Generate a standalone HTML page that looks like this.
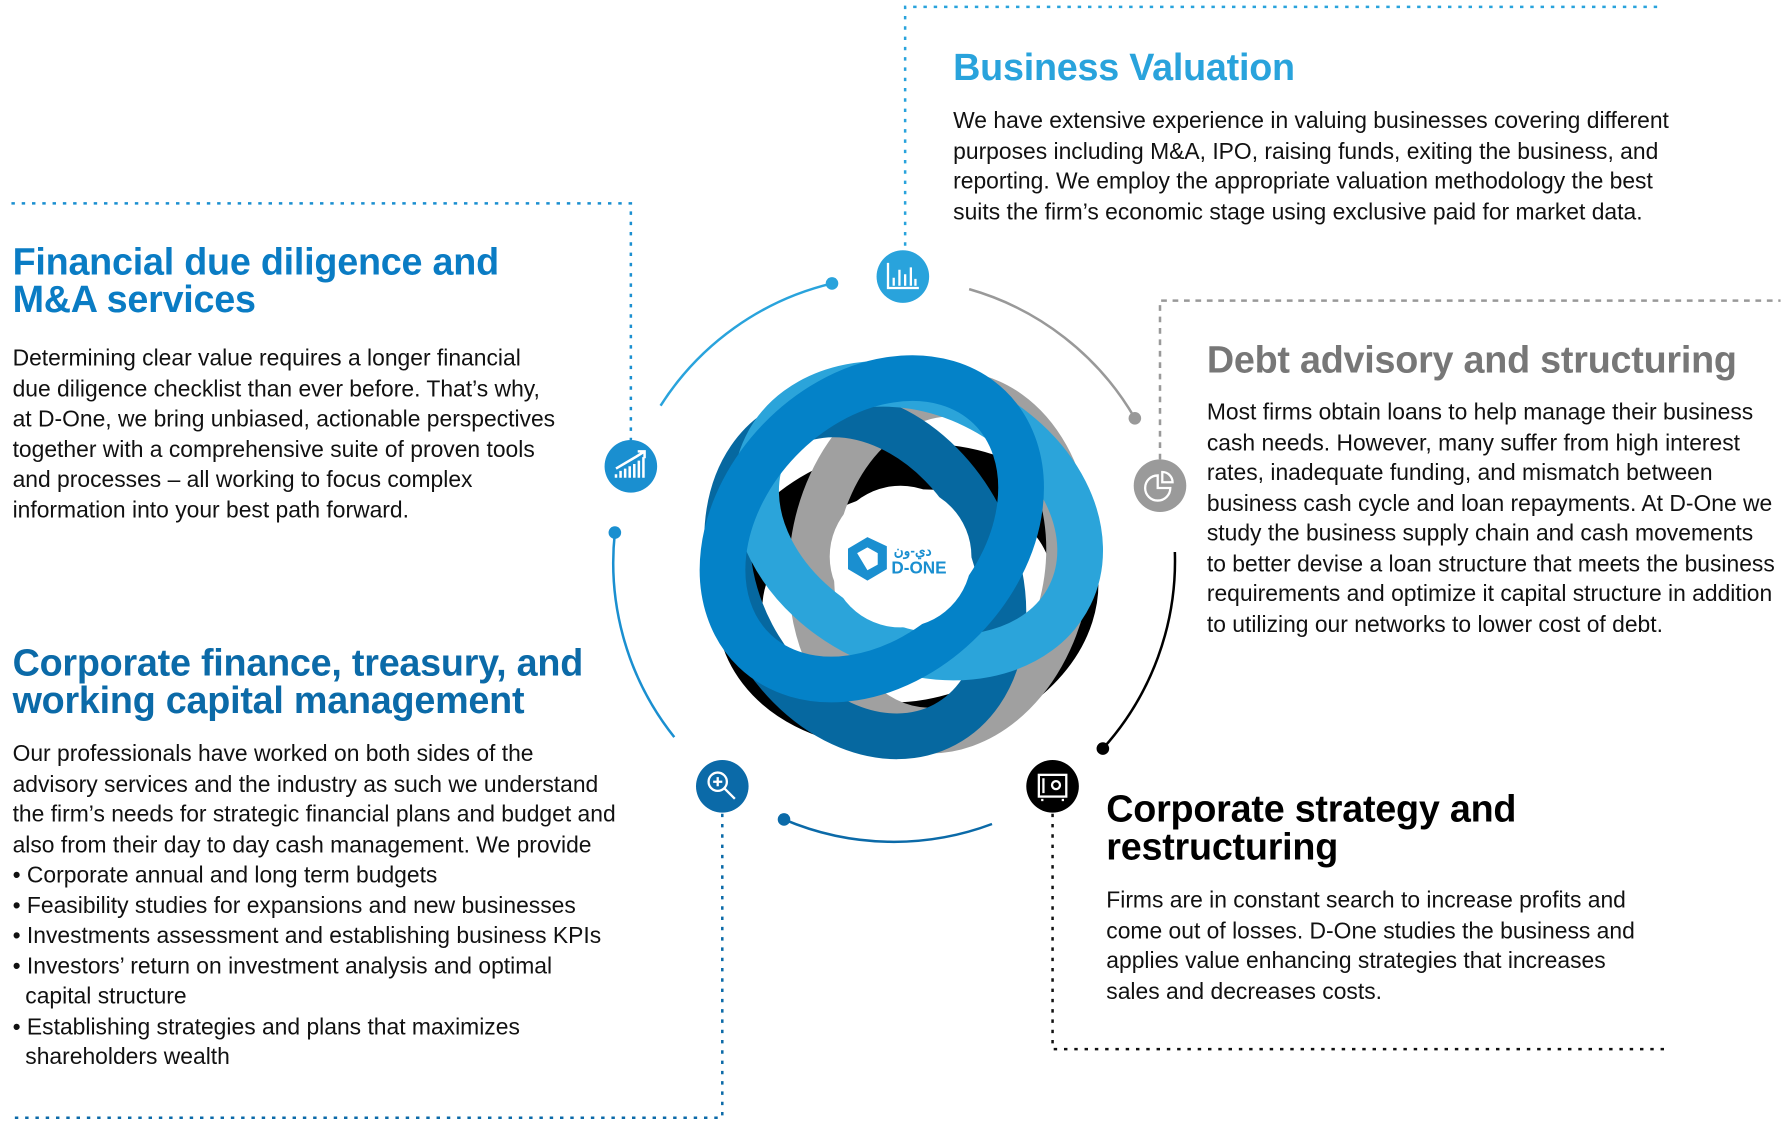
<!DOCTYPE html>
<html><head><meta charset="utf-8">
<style>
html,body{margin:0;padding:0;background:#fff;}
body{width:1792px;height:1142px;overflow:hidden;position:relative;font-family:"Liberation Sans",Arial,sans-serif;}
#w{position:absolute;left:0;top:0;width:1568px;height:1000px;transform:scale(1.142857);transform-origin:0 0;}
.t{position:absolute;font-weight:bold;font-size:33px;line-height:33px;letter-spacing:-0.2px;}
.b{position:absolute;font-size:20px;line-height:26.5px;color:#111;letter-spacing:0;white-space:nowrap;}
svg{position:absolute;left:0;top:0;}
</style></head><body><div id="w">
<svg width="1568" height="1000" viewBox="0 0 1568 1000">
 <g fill="none" stroke-width="2.2">
  <path d="M792 215 V6 H1455" stroke="#29a3dc" stroke-dasharray="3 6"/>
  <path d="M10 178 H552 V385" stroke="#1a8fd0" stroke-dasharray="3 6"/>
  <path d="M1015 402 V263 H1558" stroke="#999" stroke-dasharray="5 5"/>
  <path d="M632 712 V978 H10" stroke="#0b6aa8" stroke-dasharray="3 6"/>
  <path d="M921 712 V918 H1462" stroke="#111" stroke-dasharray="3 6"/>
 </g>
 <g fill="none" stroke-width="2.2">
  <path d="M578 355 A245 245 0 0 1 728 248" stroke="#29a3dc"/>
  <path d="M848 253 A245 245 0 0 1 993 366" stroke="#999"/>
  <path d="M1028 483 A245 245 0 0 1 965 655" stroke="#000"/>
  <path d="M686 717 A245 245 0 0 0 868 721" stroke="#0b6aa8"/>
  <path d="M538 466 A245 245 0 0 0 590 645" stroke="#1a8fd0"/>
 </g>
 <circle cx="728" cy="248" r="5.5" fill="#29a3dc"/>
 <circle cx="993" cy="366" r="5.5" fill="#999"/>
 <circle cx="965" cy="655" r="5.5" fill="#000"/>
 <circle cx="686" cy="717" r="5.5" fill="#0b6aa8"/>
 <circle cx="538" cy="466" r="5.5" fill="#1a8fd0"/>
 <g fill="none" stroke-width="40">
  <ellipse cx="0" cy="0" rx="148" ry="112" transform="translate(788 487) rotate(80) translate(35 0) rotate(90)" stroke="#000"/>
  <ellipse cx="0" cy="0" rx="148" ry="112" transform="translate(788 487) rotate(8) translate(35 0) rotate(90)" stroke="#a0a0a0"/>
  <ellipse cx="0" cy="0" rx="148" ry="112" transform="translate(788 487) rotate(152) translate(35 0) rotate(90)" stroke="#0668a0"/>
  <ellipse cx="0" cy="0" rx="148" ry="112" transform="translate(788 487) rotate(-64) translate(35 0) rotate(90)" stroke="#2ba4da"/>
  <ellipse cx="0" cy="0" rx="148" ry="112" transform="translate(788 487) rotate(-136) translate(35 0) rotate(90)" stroke="#0482c8"/>
 </g>
 <circle cx="788" cy="487" r="62" fill="#fff"/>
 <g transform="translate(742 470)">
  <path d="M0 10 L17 0 L34 8 L34 28 L17 38 L0 28 Z" fill="#1a8fd0"/>
  <path d="M8 14 L17 9 L26 14 L26 24 L17 29 Z" fill="#fff"/>
 </g>
 <text x="782" y="486" font-family="Liberation Sans" font-size="12" fill="#1a8fd0" font-weight="bold">دي-ون</text>
 <text x="780" y="502" font-family="Liberation Sans" font-size="15" fill="#1a8fd0" font-weight="bold">D-ONE</text>
 <circle cx="790" cy="242" r="23" fill="#29a3dc"/>
 <g stroke="#fff" stroke-width="2" fill="none"><path d="M777 230 V252 H804"/><path d="M782 250 V243 M787 250 V236 M792 250 V240 M797 250 V234 M801 250 V244"/></g>
 <circle cx="552" cy="408" r="23" fill="#1a8fd0"/>
 <g stroke="#fff" stroke-width="2.2" fill="none"><path d="M539 418 V415 M543 418 V412 M547 418 V410 M551 418 V408 M555 418 V406 M559 418 V403 M563 418 V400"/><path d="M539 410 L556 400 L564 395 M558 395 H564 V401"/></g>
 <circle cx="1015" cy="425" r="23" fill="#9a9a9a"/>
 <g stroke="#fff" stroke-width="2" fill="none"><path d="M1013 416 A11 11 0 1 0 1024 427 H1013 Z"/><path d="M1017 413 A9 9 0 0 1 1026 422 H1017 Z"/></g>
 <circle cx="632" cy="688" r="23" fill="#0b6aa8"/>
 <g stroke="#fff" stroke-width="2" fill="none"><circle cx="628" cy="684" r="8"/><path d="M634 690 L643 699 M624 684 H632 M628 680 V688"/></g>
 <circle cx="921" cy="688" r="23" fill="#000"/>
 <g stroke="#fff" stroke-width="2" fill="none"><rect x="909" y="678" width="24" height="19"/><circle cx="924" cy="687" r="3.5"/><path d="M913 681 V694 M912 699 V701 M930 699 V701"/></g>
</svg>

<div class="t" style="left:834px;top:42px;color:#29a3dc;">Business Valuation</div>
<div class="b" style="left:834px;top:93px;">We have extensive experience in valuing businesses covering different<br>purposes including M&amp;A, IPO, raising funds, exiting the business, and<br>reporting. We employ the appropriate valuation methodology the best<br>suits the firm’s economic stage using exclusive paid for market data.</div>

<div class="t" style="left:11px;top:212px;color:#0a7cc4;">Financial due diligence and<br>M&amp;A services</div>
<div class="b" style="left:11px;top:301px;">Determining clear value requires a longer financial<br>due diligence checklist than ever before. That’s why,<br>at D-One, we bring unbiased, actionable perspectives<br>together with a comprehensive suite of proven tools<br>and processes – all working to focus complex<br>information into your best path forward.</div>

<div class="t" style="left:1056px;top:298px;color:#777;">Debt advisory and structuring</div>
<div class="b" style="left:1056px;top:348px;">Most firms obtain loans to help manage their business<br>cash needs. However, many suffer from high interest<br>rates, inadequate funding, and mismatch between<br>business cash cycle and loan repayments. At D-One we<br>study the business supply chain and cash movements<br>to better devise a loan structure that meets the business<br>requirements and optimize it capital structure in addition<br>to utilizing our networks to lower cost of debt.</div>

<div class="t" style="left:11px;top:563px;color:#0b6aa8;">Corporate finance, treasury, and<br>working capital management</div>
<div class="b" style="left:11px;top:647px;">Our professionals have worked on both sides of the<br>advisory services and the industry as such we understand<br>the firm’s needs for strategic financial plans and budget and<br>also from their day to day cash management. We provide<br>• Corporate annual and long term budgets<br>• Feasibility studies for expansions and new businesses<br>• Investments assessment and establishing business KPIs<br>• Investors’ return on investment analysis and optimal<br>&nbsp;&nbsp;capital structure<br>• Establishing strategies and plans that maximizes<br>&nbsp;&nbsp;shareholders wealth</div>

<div class="t" style="left:968px;top:691px;color:#000;">Corporate strategy and<br>restructuring</div>
<div class="b" style="left:968px;top:775px;">Firms are in constant search to increase profits and<br>come out of losses. D-One studies the business and<br>applies value enhancing strategies that increases<br>sales and decreases costs.</div>
</div></body></html>
